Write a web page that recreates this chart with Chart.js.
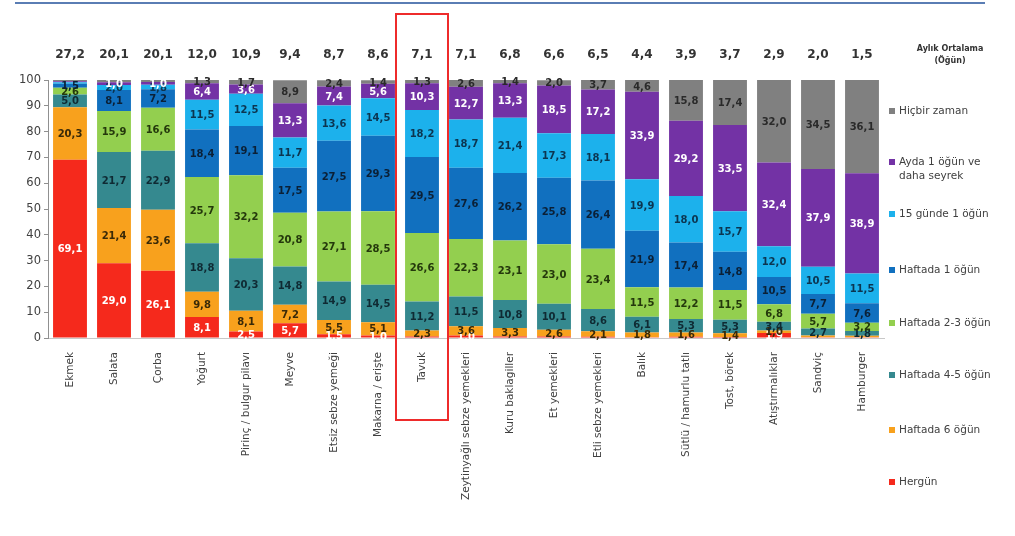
<!DOCTYPE html>
<html>
<head>
<meta charset="utf-8">
<script src="https://cdn.jsdelivr.net/npm/chart.js@4/dist/chart.umd.min.js"></script>
<style>
  html, body { margin: 0; padding: 0; background: #fff; }
  #wrap { position: relative; width: 1015px; height: 536px; }
</style>
</head>
<body>
<div id="wrap"><canvas id="chart" width="1015" height="536"></canvas></div>
<script>
const foods = ['Ekmek', 'Salata', 'Çorba', 'Yoğurt', 'Pirinç / bulgur pilavı', 'Meyve',
  'Etsiz sebze yemeği', 'Makarna / erişte', 'Tavuk', 'Zeytinyağlı sebze yemekleri',
  'Kuru baklagiller', 'Et yemekleri', 'Etli sebze yemekleri', 'Balık',
  'Sütlü / hamurlu tatlı', 'Tost, börek', 'Atıştırmalıklar', 'Sandviç', 'Hamburger'];

const monthlyAvg = [27.2, 20.1, 20.1, 12.0, 10.9, 9.4, 8.7, 8.6, 7.1, 7.1, 6.8, 6.6, 6.5, 4.4, 3.9, 3.7, 2.9, 2.0, 1.5];

// percentages per frequency, bottom of the stack first
const hergun    = [69.1, 29.0, 26.1, 8.1, 2.5, 5.7, 1.5, 1.0, 0.6, 1.0, 0.6, 0.6, 0.5, 0.3, 0.5, 0.4, 1.9, 0.3, 0.3];
const hafta6    = [20.3, 21.4, 23.6, 9.8, 8.1, 7.2, 5.5, 5.1, 2.3, 3.6, 3.3, 2.6, 2.1, 1.8, 1.6, 1.4, 1.0, 0.7, 0.6];
const hafta45   = [5.0, 21.7, 22.9, 18.8, 20.3, 14.8, 14.9, 14.5, 11.2, 11.5, 10.8, 10.1, 8.6, 6.1, 5.3, 5.3, 3.4, 2.7, 1.8];
const hafta23   = [2.6, 15.9, 16.6, 25.7, 32.2, 20.8, 27.1, 28.5, 26.6, 22.3, 23.1, 23.0, 23.4, 11.5, 12.2, 11.5, 6.8, 5.7, 3.2];
const hafta1    = [1.5, 8.1, 7.2, 18.4, 19.1, 17.5, 27.5, 29.3, 29.5, 27.6, 26.2, 25.8, 26.4, 21.9, 17.4, 14.8, 10.5, 7.7, 7.6];
const gun15     = [0.6, 2.0, 1.8, 11.5, 12.5, 11.7, 13.6, 14.5, 18.2, 18.7, 21.4, 17.3, 18.1, 19.9, 18.0, 15.7, 12.0, 10.5, 11.5];
const aydaBir   = [0.4, 1.0, 1.0, 6.4, 3.6, 13.3, 7.4, 5.6, 10.3, 12.7, 13.3, 18.5, 17.2, 33.9, 29.2, 33.5, 32.4, 37.9, 38.9];
const hicbir    = [0.5, 0.9, 0.8, 1.3, 1.7, 8.9, 2.4, 1.4, 1.3, 2.6, 1.4, 2.0, 3.7, 4.6, 15.8, 17.4, 32.0, 34.5, 36.1];

const yTicks = [0, 10, 20, 30, 40, 50, 60, 70, 80, 90, 100];
const highlighted = 'Tavuk';

const series = [
  { label: 'Hergün', data: hergun, color: '#f5291c', text: '#ffffff' },
  { label: 'Haftada 6 öğün', data: hafta6, color: '#f8a11d', text: '#3a2a08' },
  { label: 'Haftada 4-5 öğün', data: hafta45, color: '#35898f', text: '#0f2a33' },
  { label: 'Haftada 2-3 öğün', data: hafta23, color: '#93cf4f', text: '#24380c' },
  { label: 'Haftada 1 öğün', data: hafta1, color: '#1170bf', text: '#0b2036' },
  { label: '15 günde 1 öğün', data: gun15, color: '#1cb1ec', text: '#0c3550' },
  { label: ['Ayda 1 öğün ve', 'daha seyrek'], data: aydaBir, color: '#7332a5', text: '#ffffff' },
  { label: 'Hiçbir zaman', data: hicbir, color: '#808080', text: '#2a2a2a' },
];

const FONT = '"DejaVu Sans", sans-serif';
const comma = (v) => v.toFixed(1).replace('.', ',');

// value labels in the middle of each segment
const segmentLabels = {
  id: 'segmentLabels',
  afterDatasetsDraw(chart) {
    const { ctx } = chart;
    ctx.save();
    ctx.font = 'bold 10px ' + FONT;
    ctx.textAlign = 'center';
    ctx.textBaseline = 'middle';
    chart.data.datasets.forEach((ds, i) => {
      const meta = chart.getDatasetMeta(i);
      ctx.fillStyle = series[i].text;
      meta.data.forEach((bar, j) => {
        const v = ds.data[j];
        if (v < 1) return;
        ctx.fillText(comma(v), bar.x, (bar.y + bar.base) / 2 + 1);
      });
    });
    ctx.restore();
  },
};

// averages row, header, legend, frame around one category and the top rule
const decorations = {
  id: 'decorations',
  afterDraw(chart) {
    const { ctx } = chart;
    const x = chart.scales.x;
    ctx.save();

    ctx.strokeStyle = '#5a7db4';
    ctx.lineWidth = 2;
    ctx.beginPath();
    ctx.moveTo(15, 3);
    ctx.lineTo(985, 3);
    ctx.stroke();

    ctx.fillStyle = '#333';
    ctx.font = 'bold 12px ' + FONT;
    ctx.textAlign = 'center';
    ctx.textBaseline = 'middle';
    monthlyAvg.forEach((v, j) => ctx.fillText(comma(v), x.getPixelForValue(j), 55));

    ctx.font = 'bold 8px ' + FONT;
    ctx.fillText('Aylık Ortalama', 950, 49);
    ctx.fillText('(Öğün)', 950, 61);

    ctx.font = '10.5px ' + FONT;
    ctx.textAlign = 'left';
    const rows = [111, 169, 214, 270, 323, 375, 430, 482];
    series.slice().reverse().forEach((s, k) => {
      const lines = Array.isArray(s.label) ? s.label : [s.label];
      const y = rows[k] - (lines.length - 1) * 7;
      ctx.fillStyle = s.color;
      ctx.fillRect(889, y - 3, 6, 6);
      ctx.fillStyle = '#404040';
      lines.forEach((t, n) => ctx.fillText(t, 899, y + n * 14));
    });

    const hx = x.getPixelForValue(foods.indexOf(highlighted));
    ctx.strokeStyle = '#ee2b2b';
    ctx.lineWidth = 2;
    ctx.strokeRect(hx - 26, 14, 52, 406);
    ctx.restore();
  },
};

new Chart(document.getElementById('chart'), {
  type: 'bar',
  data: {
    labels: foods,
    datasets: series.map((s) => ({
      label: s.label,
      data: s.data,
      backgroundColor: s.color,
      borderWidth: 0,
      categoryPercentage: 1,
      barPercentage: 0.77,
    })),
  },
  options: {
    responsive: false,
    animation: false,
    layout: { padding: { top: 80, right: 131, left: 0, bottom: 0 } },
    plugins: { legend: { display: false }, tooltip: { enabled: false } },
    scales: {
      x: {
        stacked: true,
        grid: { display: false },
        border: { display: true, color: '#c8c8c8' },
        ticks: {
          minRotation: 90,
          maxRotation: 90,
          padding: 6,
          color: '#404040',
          font: { family: FONT, size: 10.5 },
        },
        afterFit(scale) { scale.height = 198; },
      },
      y: {
        stacked: true,
        min: 0,
        max: 100,
        afterBuildTicks(scale) { scale.ticks = yTicks.map((v) => ({ value: v })); },
        grid: { drawOnChartArea: false, drawTicks: true, tickLength: 4, color: '#909090' },
        border: { display: true, color: '#909090' },
        ticks: { color: '#404040', padding: 3, font: { family: FONT, size: 11.5 } },
        afterFit(scale) { scale.width = 48; },
      },
    },
  },
  plugins: [segmentLabels, decorations],
});
</script>
</body>
</html>
